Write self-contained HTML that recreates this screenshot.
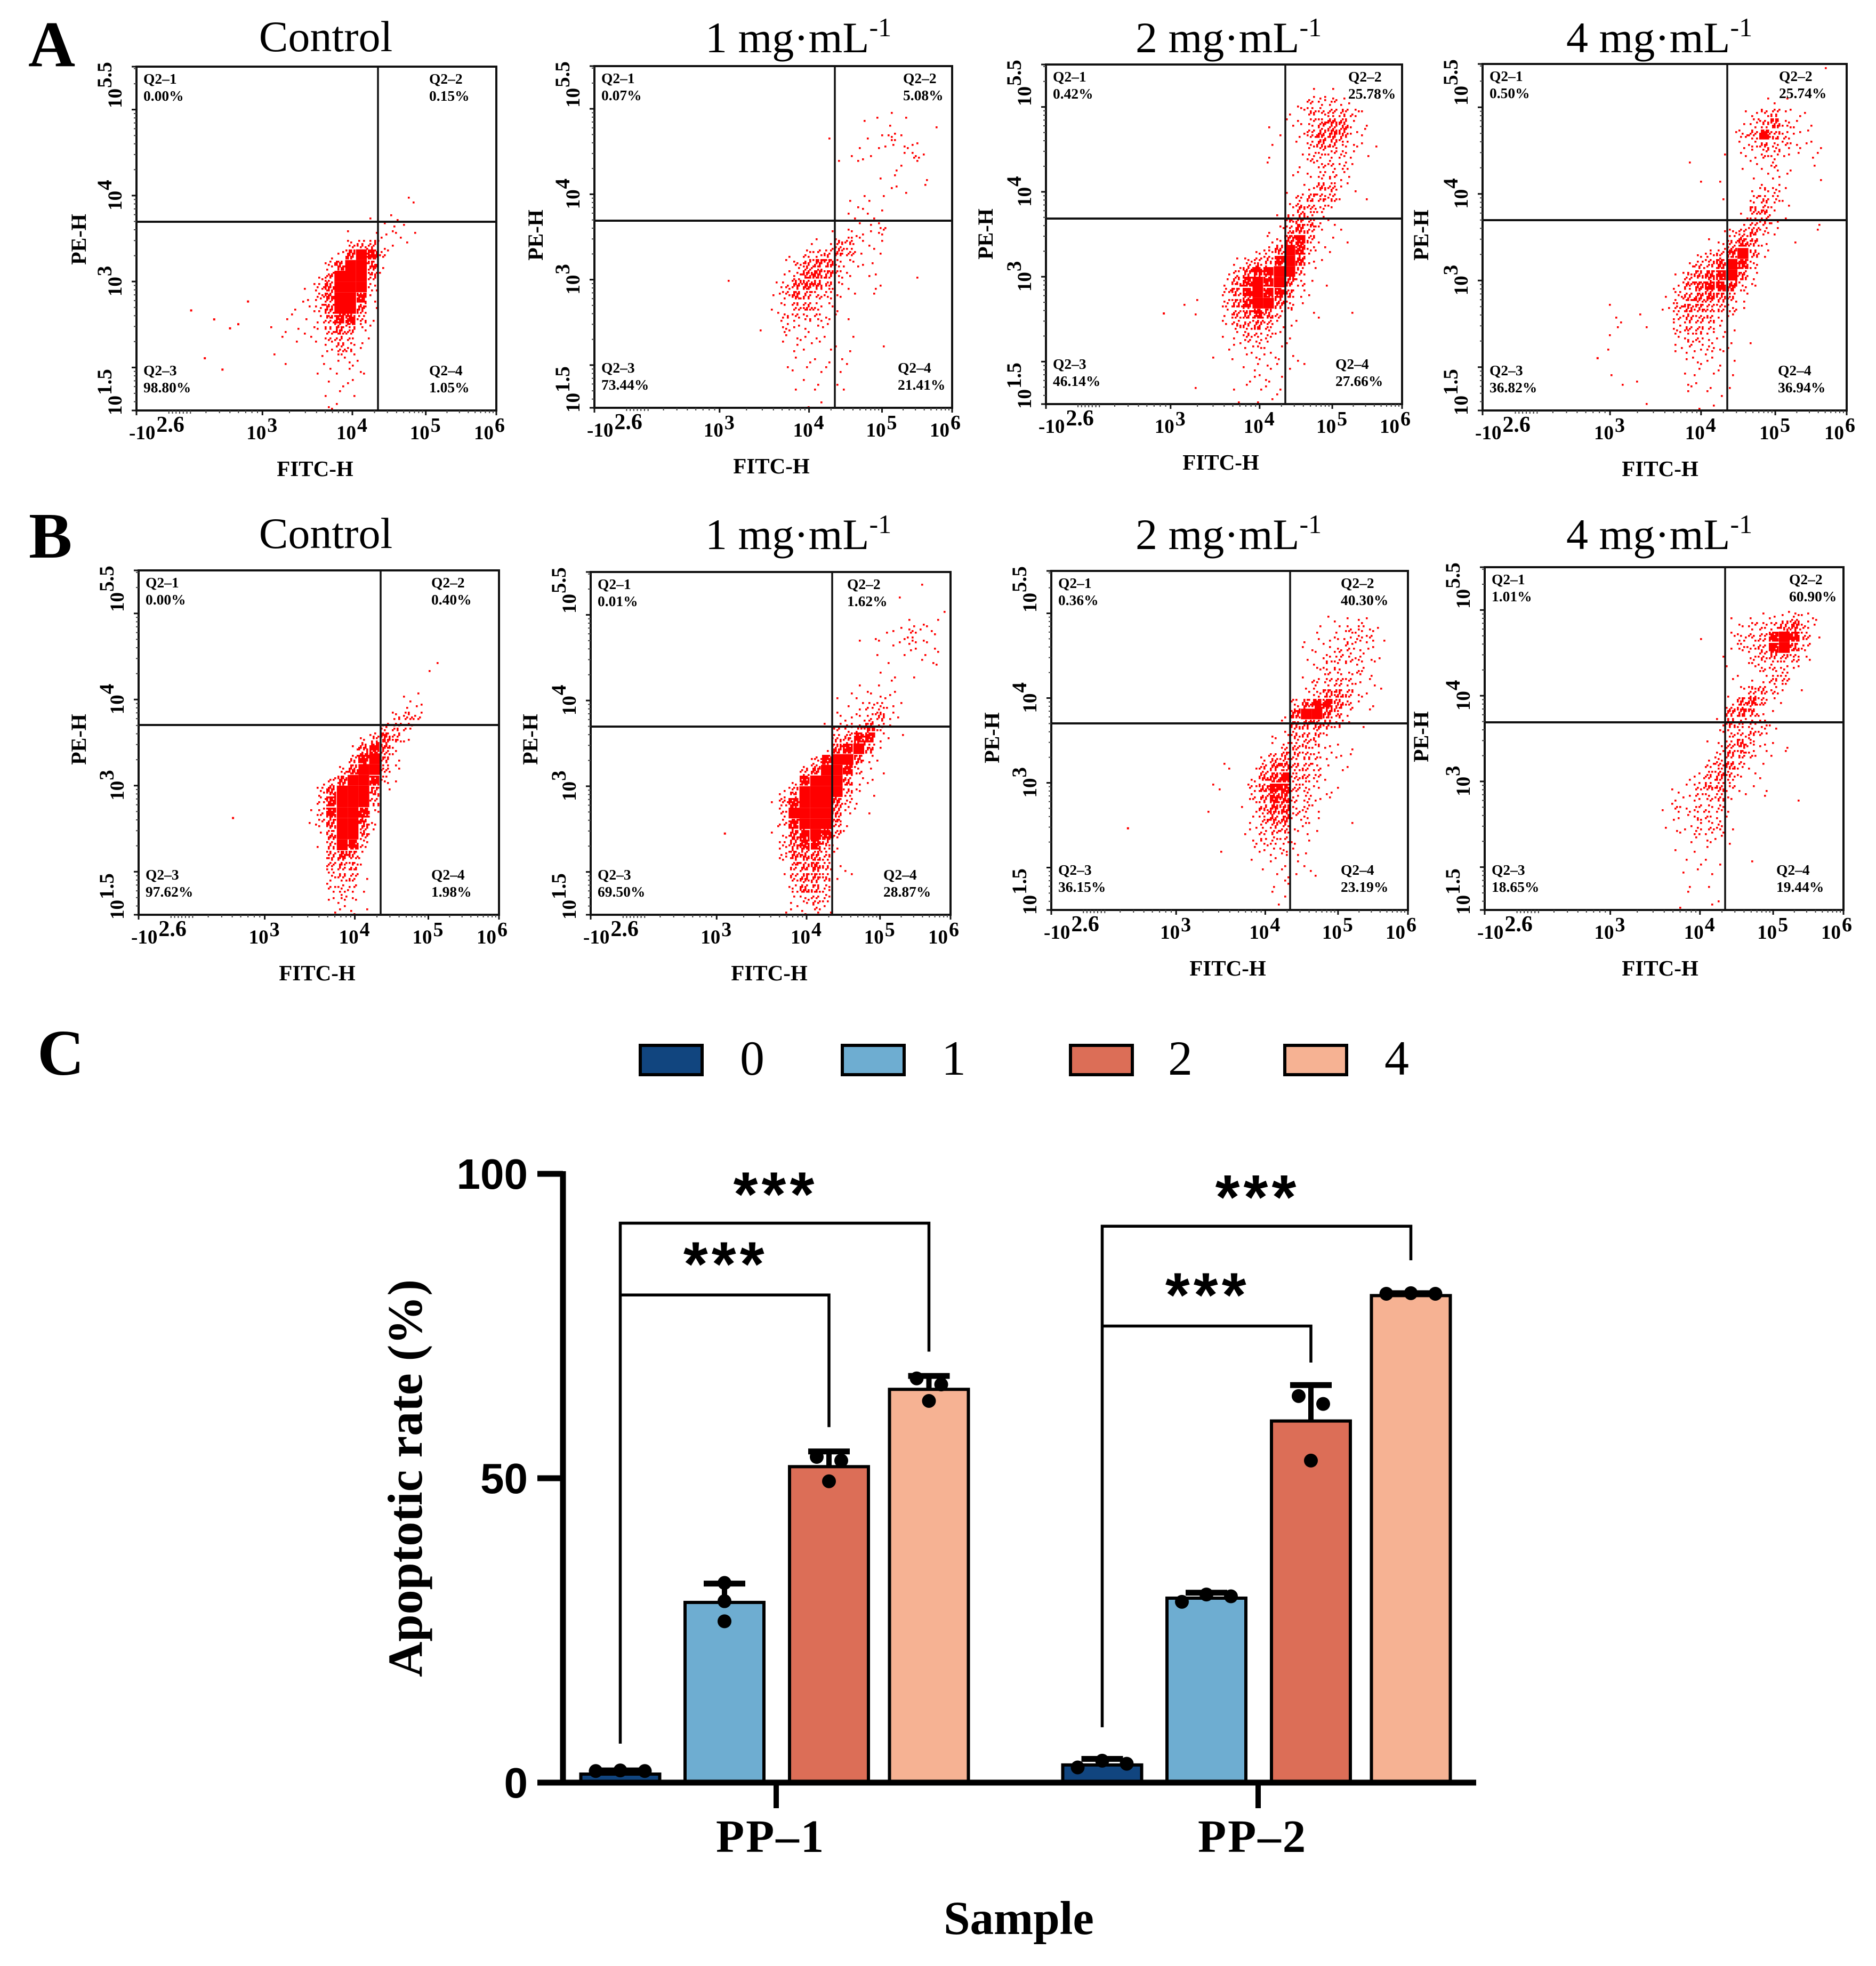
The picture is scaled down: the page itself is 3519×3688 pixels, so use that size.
<!DOCTYPE html>
<html lang="en">
<head>
<meta charset="utf-8">
<title>Apoptosis flow cytometry and apoptotic rate</title>
<style>
html,body{margin:0;padding:0;background:#fff;}
svg{display:block;}
text{font-family:"Liberation Serif","Times New Roman",serif;fill:#000;}
</style>
</head>
<body>
<svg id="figure" xmlns="http://www.w3.org/2000/svg" width="3519" height="3688" viewBox="0 0 3519 3688">
<rect x="0" y="0" width="3519" height="3688" fill="#fff"/>
<text x="53" y="124" font-size="122" font-weight="bold">A</text>
<text x="54" y="1046" font-size="122" font-weight="bold">B</text>
<text x="70" y="2016" font-size="122" font-weight="bold">C</text>
</svg>
<script>
/* ---------- flow cytometry data: event density read per grid cell ("column:density") ---------- */
const xMajorTicks = [3, 4, 5, 6];
const yMajorTicks = [1.5, 2, 3, 4, 5, 5.5];
const panelTitles = ['Control', '1 mg·mL', '2 mg·mL', '4 mg·mL'];

const quadA1 = ['0.00%', '0.15%', '98.80%', '1.05%'];
const quadA2 = ['0.07%', '5.08%', '73.44%', '21.41%'];
const quadA3 = ['0.42%', '25.78%', '46.14%', '27.66%'];
const quadA4 = ['0.50%', '25.74%', '36.82%', '36.94%'];
const quadB1 = ['0.00%', '0.40%', '97.62%', '1.98%'];
const quadB2 = ['0.01%', '1.62%', '69.50%', '28.87%'];
const quadB3 = ['0.36%', '40.30%', '36.15%', '23.19%'];
const quadB4 = ['1.01%', '60.90%', '18.65%', '19.44%'];

const densityA1 = ['','','','','','','','','','','','','13:1 14:1','12:1','10:1 11:1 12:2 13:1','8:1 10:1 11:2 12:2 13:1 14:1',
'8:3 9:4 10:5 11:2 12:1 13:1','6:1 7:2 8:7 9:9 10:8 11:3','6:3 7:7 8:9 9:9 10:7 11:1','5:2 6:5 7:9 8:9 9:9 10:5 11:1',
'4:1 5:3 6:7 7:9 8:9 9:9 10:3','4:2 5:3 6:7 7:9 8:9 9:8 10:2','3:1 4:1 5:3 6:7 7:9 8:9 9:6 10:1','2:1 3:1 4:1 5:2 6:5 7:8 8:8 9:4 10:1',
'1:1 2:1 3:1 4:1 5:2 6:4 7:6 8:5 9:2 10:1','2:1 3:1 4:1 5:1 6:3 7:5 8:3 9:1 10:1','1:1 5:1 6:2 7:4 8:3 9:1','2:1 6:1 7:2 8:2 9:1',
'5:1 6:1 7:1 8:1 9:2','6:1 7:1 8:2','6:1 7:1 8:1','6:2 7:1'];
const densityA2 = ['','','','','15:1 16:1 17:1','13:1 16:1 20:1','10:1 14:1 15:1 16:3 17:1','13:1 15:2 16:1 17:2 18:2','11:1 12:1 13:2 14:1 17:1 18:3 19:1',
'16:1 17:1','15:1 16:1 19:1','16:2 17:1 19:1','12:1 13:1 14:1 15:1','12:1 13:2 14:1 15:1','12:1 13:1 14:2 15:1','10:1 12:2 13:2 14:1 15:3',
'8:1 9:1 10:1 11:4 12:4 13:2 14:1 15:1','6:1 8:3 9:3 10:4 11:5 12:4 13:1 14:1 15:1','6:1 7:3 8:5 9:7 10:6 11:3 12:2 13:2 14:1','6:2 7:3 8:7 9:7 10:6 11:3 12:2 14:2 18:1',
'1:1 5:1 6:3 7:6 8:7 9:6 10:4 11:2 12:1 14:1 15:1','5:2 6:3 7:6 8:5 9:3 10:3 11:2 12:1 14:1','5:1 6:2 7:4 8:5 9:3 10:2 11:1','5:1 6:3 7:3 8:3 9:3 10:2 11:1 12:1',
'4:1 6:3 7:2 8:2 9:2 10:1','6:2 7:2 8:2 9:2 10:1 12:1','7:2 8:1 10:1 11:1 12:1 15:1','7:1 8:1 9:1 10:1 11:1 12:1','6:1 7:1 8:1 9:1 10:1 11:1','8:1 9:1 11:1','7:1 9:1 11:1','8:1 9:1'];
const densityA3 = ['','','13:1 15:1','12:1 13:3 14:3 15:3 16:2 17:1','11:1 12:2 13:4 14:3 15:4 16:4 17:3 18:1','9:1 11:2 12:2 13:3 14:5 15:6 16:6 17:2 18:1','10:1 12:2 13:4 14:6 15:7 16:6 17:2 18:2',
'9:1 12:1 13:3 14:6 15:5 16:3 17:2 18:1 19:1','9:1 12:1 13:3 14:3 15:3 16:3 17:2 18:1','9:1 12:1 13:2 14:3 15:3 16:3 17:1','11:1 12:1 13:2 14:3 15:3 16:2 17:1','12:1 13:2 14:5 15:5 16:2 17:1',
'11:1 12:3 13:5 14:5 15:4 16:1 18:1','11:2 12:5 13:5 14:3 15:2','10:1 11:5 12:6 13:4 14:2 15:1','9:1 10:2 11:5 12:7 13:5 14:2 15:1 16:1','9:2 10:2 11:7 12:8 13:4 14:1 15:1 16:1',
'8:2 9:3 10:6 11:9 12:8 13:3 14:1 15:1','6:2 7:3 8:4 9:5 10:8 11:9 12:7 13:2 14:1','5:1 6:3 7:6 8:8 9:8 10:9 11:9 12:4 13:1','5:2 6:5 7:8 8:9 9:8 10:9 11:7 12:3 13:1 14:1','5:3 6:6 7:8 8:9 9:8 10:8 11:5 12:2 13:1',
'1:1 2:1 5:3 6:6 7:8 8:9 9:9 10:6 11:3 12:1','2:1 5:2 6:5 7:6 8:8 9:6 10:3 11:2 13:1 14:1 17:1','5:2 6:4 7:5 8:6 9:4 10:2 11:1 12:1','5:1 6:2 7:4 8:3 9:3 10:2 11:1','5:1 6:2 7:2 8:3 9:2 10:1 11:1',
'4:1 6:1 7:2 8:2 9:2 10:2 11:1 12:1','7:1 8:2 9:2 10:1 11:1 12:1','7:1 8:2 9:2 10:1','2:1 6:1 7:1 8:1 9:1 10:1','6:1 8:1 9:1 10:1'];
const densityA4 = ['20:1','','','14:1 15:1 16:1','12:1 13:2 14:3 15:4 16:2 17:1 18:1','12:1 13:3 14:4 15:7 16:3 17:2 18:1','11:1 12:3 13:5 14:8 15:5 16:3 17:2 18:1','12:2 13:3 14:5 15:3 16:3 17:2 18:2 19:1',
'10:1 12:2 13:2 14:3 15:3 16:2 17:1 18:1 19:1','7:1 12:1 13:1 14:1 15:3 16:1 19:1','8:1 10:1 13:1 14:1 15:2 16:1 19:1','13:1 14:3 15:3 16:1','10:1 13:3 14:4 15:3 16:1','12:1 13:5 14:5 15:2 16:1','12:2 13:4 14:4 15:2 16:1 19:1',
'10:1 11:3 12:4 13:6 14:3 15:2 19:1','9:1 10:2 11:4 12:7 13:5 14:2 17:1','8:2 9:3 10:4 11:7 12:9 13:5 14:2','7:2 8:4 9:5 10:7 11:9 12:8 13:3','6:1 7:4 8:6 9:7 10:8 11:9 12:6 13:2','6:2 7:5 8:7 9:8 10:8 11:7 12:3 13:2','5:1 6:3 7:6 8:7 9:7 10:6 11:4 12:2',
'0:1 5:2 6:4 7:6 8:6 9:5 10:4 11:3 12:1','0:1 1:1 3:1 6:3 7:5 8:5 9:4 10:2 11:2','1:1 3:1 6:3 7:4 8:4 9:3 10:2 11:1','0:1 6:2 7:3 8:3 9:2 10:2 11:1 13:1','0:1 6:2 7:2 8:2 9:3 10:2 11:1','7:2 8:2 9:2 10:1 11:1','0:1 7:1 8:2 9:1 10:1 11:1','1:1 2:1 7:2 8:1 9:1 11:1','7:1 9:1 10:1','3:1 8:1 9:1'];
const densityB1 = ['','','','','','','','','16:1','15:1','','13:1 14:1','13:2 14:2','12:3 13:4 14:3','11:3 12:4 13:3','9:2 10:4 11:7 12:5 13:2',
'8:2 9:6 10:8 11:6 12:2','8:4 9:8 10:9 11:5 12:2','7:3 8:7 9:9 10:9 11:4 12:2','5:1 6:3 7:7 8:9 9:9 10:8 11:3 12:1','5:3 6:7 7:9 8:9 9:9 10:6 11:1','5:3 6:8 7:9 8:9 9:9 10:4','4:1 5:3 6:8 7:9 8:9 9:8 10:2','4:1 5:3 6:7 7:9 8:9 9:7 10:2',
'5:1 6:6 7:9 8:9 9:5 10:1','5:1 6:5 7:9 8:8 9:3','6:5 7:7 8:6 9:2','6:4 7:5 8:5 9:1','6:3 7:4 8:4 9:1','6:3 7:3 8:3 9:1','6:2 7:3 8:2','6:1 7:2 8:2 9:1'];
const densityB2 = ['','19:1','17:1','21:1','18:1 19:1 20:1','16:2 17:1 18:3 19:2 20:2','13:1 15:2 16:1 17:2 18:3 19:2','15:1 17:1 18:2 19:1 20:2','16:1 19:1 20:2','15:1 16:1 18:1','13:1 15:1 16:1','11:1 12:1 13:1 14:2 15:2 16:2',
'12:1 13:2 14:3 15:3 16:2 17:1','11:2 12:2 13:2 14:3 15:5 16:2 17:1','10:1 11:3 12:3 13:3 14:7 15:3 16:1','11:4 12:5 13:8 14:8 15:2 16:1 17:1','10:1 11:7 12:8 13:9 14:5 15:1','9:3 10:8 11:9 12:9 13:6 14:2 15:1','8:4 9:7 10:9 11:9 12:8 13:3 14:1 15:1',
'7:2 8:8 9:9 10:9 11:9 12:6 13:2 14:2','6:2 7:5 8:9 9:9 10:9 11:9 12:4 13:2 14:1','5:1 6:4 7:8 8:9 9:9 10:9 11:7 12:3 13:1','6:3 7:9 8:9 9:9 10:9 11:6 12:2 13:1 14:1','6:3 7:8 8:9 9:9 10:9 11:5 12:1','5:1 6:2 7:7 8:8 9:9 10:8 11:4 12:1','6:3 7:6 8:8 9:8 10:5 11:2',
'6:3 7:6 8:6 9:7 10:4 11:1','7:5 8:6 9:7 10:4 11:1 12:1','6:1 7:4 8:6 9:6 10:4 11:1 12:1','7:3 8:6 9:5 10:3','7:2 8:3 9:4 10:3','6:1 7:2 8:2 9:3 10:2'];
const densityB3 = ['','','','','14:1 15:1 16:1 17:2 18:1','13:2 15:2 16:3 17:3 18:2 19:1','12:1 13:1 14:2 15:2 16:3 17:3 18:3 19:1','12:1 13:2 14:2 15:3 16:3 17:2 18:2','12:1 13:1 14:3 15:3 16:3 17:3 18:2 19:1','13:2 14:3 15:3 16:2 17:3 18:1',
'12:1 13:3 14:3 15:4 16:3 17:2 18:2','12:2 13:3 14:6 15:6 16:4 17:2 18:1 19:1','11:3 12:6 13:8 14:8 15:6 16:3 17:1 18:1','10:1 11:7 12:9 13:9 14:7 15:4 16:2 18:1','10:1 11:6 12:6 13:6 14:5 15:3 16:1 17:1','9:2 10:2 11:4 12:4 13:4 14:2',
'9:1 10:3 11:4 12:4 13:3 14:2 15:1 16:1','8:2 9:4 10:5 11:4 12:4 13:3 14:2 15:2 16:1','4:1 5:1 7:1 8:4 9:6 10:6 11:4 12:4 13:3 14:1 15:1 16:1','7:2 8:6 9:7 10:8 11:4 12:4 13:3 14:1','3:1 4:1 7:3 8:6 9:8 10:8 11:4 12:3 13:2 14:1 15:1','7:3 8:5 9:8 10:7 11:3 12:3 13:2 14:2',
'3:1 6:1 7:1 8:5 9:7 10:7 11:3 12:3 13:2','7:2 8:4 9:6 10:6 11:2 12:3 13:1 16:1','6:1 7:2 8:3 9:4 10:4 11:2 12:2 13:1','7:2 8:3 9:3 10:3 11:2 12:1','4:1 7:1 8:2 9:2 10:3 11:2 12:1','7:1 9:2 10:1 11:1 12:1','8:1 9:1 10:2 11:1 12:1 13:1','9:1 10:2','9:1 10:1','9:1'];
const densityB4 = ['','','','','11:1 13:1 14:1 15:2 16:2 17:3 18:2 19:2','12:2 13:3 14:3 15:3 16:6 17:7 18:3 19:1','8:1 11:2 12:3 13:3 14:4 15:8 16:9 17:8 18:4 19:1','11:1 12:3 13:3 14:4 15:8 16:9 17:6 18:3','10:1 13:3 14:4 15:5 16:4 17:4 18:2','11:1 13:1 14:3 15:3 16:3 17:2','11:1 12:1 13:1 14:2 15:4 16:4',
'12:2 13:4 14:5 15:3 16:1 18:1','11:2 12:6 13:7 14:4 15:1 16:1','11:6 12:7 13:5 14:2 15:1','10:2 11:6 12:4 13:3 14:3 15:2','10:2 11:3 12:3 13:4 14:3 15:1','9:1 10:2 11:4 12:6 13:3 14:2 15:1 16:1','10:3 11:5 12:5 13:3 14:1 15:1 16:1','9:3 10:4 11:6 12:3 13:1 14:1',
'7:1 8:2 9:4 10:6 11:4 12:2 13:1 14:1','6:1 7:1 8:3 9:5 10:5 11:3 12:1 13:1 14:1','6:2 7:2 8:3 9:3 10:4 11:2 12:1 14:1 17:1','5:1 6:3 7:2 8:3 9:3 10:3 11:1','6:2 7:1 8:3 9:3 10:2 11:1','5:1 6:2 7:2 8:3 9:3 10:3 11:1','7:1 8:1 9:2 10:2 11:1','6:1 8:1 9:1','7:1 8:1 9:1 10:1 13:1','7:1 8:1 9:1','7:1 9:1','7:1','6:1 9:1 10:1'];

const outliersA1 = [[0.149,0.706],[0.307,0.68],[0.257,0.758],[0.28,0.746],[0.213,0.732],[0.187,0.845],[0.236,0.878]];
const outliersA2 = [];
const outliersA3 = [[0.328,0.73]];
const outliersA4 = [[0.313,0.846]];
const outliersB1 = [[0.259,0.716]];
const outliersB2 = [[0.37,0.76]];
const outliersB3 = [[0.212,0.756]];
const outliersB4 = [];

/* ---------- bar chart data ---------- */
const groupLabels = ['PP–1', 'PP–2'];
const doseLabels = ['0', '1', '2', '4'];
const yAxisTicks = [0, 50, 100];
const ratePP1 = [1.4, 29.6, 51.9, 64.6];
const ratePP2 = [2.9, 30.3, 59.4, 80.0];
const errTopPP1 = [2.0, 32.7, 54.4, 66.8];
const errTopPP2 = [3.9, 31.2, 65.3, 80.4];
const repsPP1 = [[1.9, 2.0, 1.9], [32.8, 29.8, 26.5], [53.5, 52.9, 49.5], [66.4, 65.4, 62.7]];
const repsPP2 = [[2.5, 3.6, 3.1], [29.7, 30.9, 30.6], [63.5, 62.2, 52.9], [80.3, 80.4, 80.3]];
const bracketOuterLevel = [91.9, 91.4];
const bracketOuterEnd = [70.8, 85.8];
const bracketInnerLevel = [80.1, 75.0];
const bracketInnerEnd = [58.4, 69.0];
const bracketStart = [6.4, 9.1];
const doseColors = ['#11457f', '#6eadd1', '#dc6e57', '#f6b293'];

/* ---------- layout (pixels), separate from data ---------- */
const rowA = [
 {id:'a1',l:256,r:931,t:125,b:770,v:709,h:416,title:0,tx:611,fx:591,px:161,py:449,q2:805,q4:805,quad:quadA1,dens:densityA1,out:outliersA1},
 {id:'a2',l:1115,r:1786,t:124,b:765,v:1566,h:414,title:1,tx:1323,fx:1447,px:1018,py:441,q2:1694,q4:1684,quad:quadA2,dens:densityA2,out:outliersA2},
 {id:'a3',l:1962,r:2630,t:121,b:758,v:2411,h:410,title:2,tx:2130,fx:2290,px:1862,py:439,q2:2529,q4:2505,quad:quadA3,dens:densityA3,out:outliersA3},
 {id:'a4',l:2781,r:3464,t:120,b:770,v:3240,h:413,title:3,tx:2938,fx:3114,px:2679,py:441,q2:3337,q4:3335,quad:quadA4,dens:densityA4,out:outliersA4}
];
const rowB = [
 {id:'b1',l:260,r:936,t:1070,b:1716,v:714,h:1360,title:0,tx:611,fx:595,px:161,py:1387,q2:809,q4:809,quad:quadB1,dens:densityB1,out:outliersB1},
 {id:'b2',l:1108,r:1783,t:1073,b:1716,v:1561,h:1363,title:1,tx:1323,fx:1443,px:1008,py:1387,q2:1589,q4:1657,quad:quadB2,dens:densityB2,out:outliersB2},
 {id:'b3',l:1972,r:2641,t:1071,b:1707,v:2420,h:1357,title:2,tx:2130,fx:2303,px:1874,py:1384,q2:2515,q4:2515,quad:quadB3,dens:densityB3,out:outliersB3},
 {id:'b4',l:2785,r:3458,t:1064,b:1707,v:3236,h:1355,title:3,tx:2938,fx:3114,px:2679,py:1382,q2:3356,q4:3332,quad:quadB4,dens:densityB4,out:outliersB4}
];
const SVGNS = 'http://www.w3.org/2000/svg';
const root = document.getElementById('figure');
function mk(tag, attrs, parent, txt) {
  const el = document.createElementNS(SVGNS, tag);
  for (const k in attrs) el.setAttribute(k, attrs[k]);
  if (txt !== undefined) el.textContent = txt;
  (parent || root).appendChild(el);
  return el;
}
function xFrac(e) { /* biexponential FITC axis */
  const knots = [[2.3,0.14],[3,0.35],[4,0.6],[5,0.804],[6,1]];
  for (let i = 0; i < knots.length - 1; i++) {
    if (e <= knots[i+1][0]) {
      return knots[i][1] + (e - knots[i][0]) / (knots[i+1][0] - knots[i][0]) * (knots[i+1][1] - knots[i][1]);
    }
  }
  return 1;
}
function yFrac(e) { return (e - 1.5) / 4; }
const dotCounts = [0, 1, 2, 5, 8, 13, 22, 36, 70];
function fr(v) { return v - Math.floor(v); }

function drawPanel(p) {
  const g = mk('g', {});
  
  
  const W = p.r - p.l, H = p.b - p.t;
  const X = f => p.l + f * W;
  const Y = f => p.b - f * H;

  /* scatter from density grid */
  const cw = 0.03 * W, ch = H / 32, dot = 3.6;
  const sg = mk('g', {fill: '#ff0000'}, g);
  
  
  p.dens.forEach((row, r) => {
    if (!row) return;
    row.split(' ').forEach(tok => {
      const c = +tok.split(':')[0], d = +tok.split(':')[1];
      const cx = X(0.34 + 0.03 * c), cy = p.t + r * ch;
      let path = '';
      if (d >= 9) {
        path = 'M' + cx.toFixed(1) + ' ' + cy.toFixed(1) + 'h' + cw.toFixed(1) + 'v' + ch.toFixed(1) + 'h' + (-cw).toFixed(1) + 'z';
      } else {
        const n = dotCounts[d];
        for (let i = 0; i < n; i++) {
          const px = cx + fr((i + 1) * 0.618034 + c * 0.37 + r * 0.71) * (cw - dot);
          const py = cy + fr((i + 1) * 0.754878 + c * 0.53 + r * 0.29) * (ch - dot);
          path += 'M' + Math.round(px / 3) * 3 + ' ' + Math.round(py / 3) * 3 + 'h' + dot + 'v' + dot + 'h-' + dot + 'z';
        }
      }
      const cell = mk('path', {d: path}, sg);
      
      
    });
  });
  p.out.forEach(o => {
    const pt = mk('rect', {x: X(o[0]), y: p.t + o[1] * H, width: 4, height: 4}, sg);
    
    
  });

  /* frame and gates */
  const frame = mk('rect', {x: p.l, y: p.t, width: W, height: H, fill: 'none', stroke: '#111', 'stroke-width': 4}, g);
  
  
  const vg = mk('line', {x1: p.v, x2: p.v, y1: p.t, y2: p.b, stroke: '#111', 'stroke-width': 3.5}, g);
  
  
  const hg = mk('line', {x1: p.l, x2: p.r, y1: p.h, y2: p.h, stroke: '#111', 'stroke-width': 4}, g);
  
  

  /* ticks */
  let tp = '';
  xMajorTicks.forEach(e => { tp += 'M' + X(xFrac(e)).toFixed(1) + ' ' + p.b + 'v9'; });
  tp += 'M' + p.l + ' ' + p.b + 'v9';
  yMajorTicks.forEach(e => { tp += 'M' + p.l + ' ' + Y(yFrac(e)).toFixed(1) + 'h-9'; });
  const major = mk('path', {d: tp, stroke: '#111', 'stroke-width': 3, fill: 'none'}, g);
  
  
  let mp = '';
  for (let d = 2.3; d < 6; d += 1) {
    for (let m = 2; m <= 9; m++) {
      const e = Math.floor(d) + Math.log10(m);
      if (e > 2.3) mp += 'M' + X(xFrac(e)).toFixed(1) + ' ' + p.b + 'v5';
    }
  }
  [0.09, 0.1, 0.11, 0.12, 0.13, 0.14, 0.15].forEach(f => { mp += 'M' + X(f).toFixed(1) + ' ' + p.b + 'v6'; });
  for (let d = 1; d < 6; d++) {
    for (let m = 2; m <= 9; m++) {
      const e = d + Math.log10(m);
      if (e > 1.5 && e < 5.5) mp += 'M' + p.l + ' ' + Y(yFrac(e)).toFixed(1) + 'h-5';
    }
  }
  const minor = mk('path', {d: mp, stroke: '#444', 'stroke-width': 2, fill: 'none'}, g);
  
  

  /* x tick labels */
  const base = p.b + 54;
  function xl(x, exp, pre, expSize) {
    const t = mk('text', {x: x, y: base, 'font-size': 37, 'font-weight': 'bold'}, g, (pre || '') + '10');
    
    
    const s = mk('tspan', {dy: -14, dx: 2, 'font-size': expSize}, t, exp);
    
    
  }
  xl(p.l - 14, '2.6', '-', 42);
  xl(X(xFrac(3)) - 30, '3', '', 38);
  xl(X(xFrac(4)) - 30, '4', '', 38);
  xl(X(xFrac(5)) - 30, '5', '', 38);
  xl(p.r - 42, '6', '', 38);

  /* y tick labels */
  function yl(yy, exp) {
    const t = mk('text', {transform: 'translate(' + (p.l - 28) + ' ' + yy + ') rotate(-90)', 'font-size': 37, 'font-weight': 'bold'}, g, '10');
    
    
    const s = mk('tspan', {dy: -19, dx: 1, 'font-size': 39}, t, exp);
    
    
  }
  yl(p.b + 9, '1.5');
  yl(Y(yFrac(3)) + 28, '3');
  yl(Y(yFrac(4)) + 28, '4');
  yl(p.t + 78, '5.5');

  /* axis titles */
  const ft = mk('text', {x: p.fx, y: p.b + 123, 'text-anchor': 'middle', 'font-size': 41, 'font-weight': 'bold'}, g, 'FITC-H');
  
  
  const pt = mk('text', {transform: 'translate(' + p.px + ' ' + p.py + ') rotate(-90)', 'text-anchor': 'middle', 'font-size': 40, 'font-weight': 'bold'}, g, 'PE-H');
  
  

  /* panel title */
  if (p.title === 0) {
    const tt = mk('text', {x: p.tx, y: (p.id[0] === 'a' ? 96 : 1028), 'text-anchor': 'middle', 'font-size': 82}, g, panelTitles[0]);
    
    
  } else {
    const tt = mk('text', {x: p.tx, y: (p.id[0] === 'a' ? 98 : 1030), 'font-size': 82}, g, panelTitles[p.title]);
    
    
    const sp = mk('tspan', {dy: -30, 'font-size': 50}, tt, '-1');
    
    
  }

  /* quadrant labels */
  const qNames = ['Q2–1', 'Q2–2', 'Q2–3', 'Q2–4'];
  const qX = [p.l + 13, p.q2, p.l + 13, p.q4];
  const qY = [p.t + 32, p.t + 32, p.b - 66, p.b - 66];
  qNames.forEach((n, i) => {
    const a = mk('text', {x: qX[i], y: qY[i], 'font-size': 27.5, 'font-weight': 'bold'}, g, n);
    
    
    const b = mk('text', {x: qX[i], y: qY[i] + 32, 'font-size': 27.5, 'font-weight': 'bold'}, g, p.quad[i]);
    
    
  });
}
rowA.forEach(drawPanel);
rowB.forEach(drawPanel);

/* ---------- bar chart ---------- */
const chart = mk('g', {});


const yZero = 3344, yUnit = 11.42;
const yScale = v => yZero - v * yUnit;
const xBar = (g, i) => 1163.5 + g * 904 + [0, 195.5, 391.5, 579][i];
const barW = 154;

[ratePP1, ratePP2].forEach((rates, g) => {
  const errs = g === 0 ? errTopPP1 : errTopPP2;
  const reps = g === 0 ? repsPP1 : repsPP2;
  rates.forEach((v, i) => {
    const cx = xBar(g, i);
    const bar = mk('rect', {x: cx - barW / 2 + 3, y: yScale(v), width: barW - 6, height: yZero - yScale(v), fill: doseColors[i], stroke: '#000', 'stroke-width': 6}, chart);
    
    
    const stem = mk('line', {x1: cx, x2: cx, y1: yScale(v), y2: yScale(errs[i]), stroke: '#000', 'stroke-width': 10}, chart);
    
    
    const cap = mk('line', {x1: cx - 39, x2: cx + 39, y1: yScale(errs[i]), y2: yScale(errs[i]), stroke: '#000', 'stroke-width': 11}, chart);
    
    
    /* swarm replicate dots: dots closer than a dot diameter spread sideways, keeping array order */
    const r = 13;
    const idx = reps[i].map((_, n) => n).sort((a, b) => reps[i][b] - reps[i][a]);
    let k = 0;
    while (k < idx.length) {
      let e = k;
      while (e + 1 < idx.length && (reps[i][idx[e]] - reps[i][idx[e + 1]]) * yUnit < 2 * r) e++;
      const members = idx.slice(k, e + 1).sort((a, b) => a - b);
      members.forEach((m, j) => {
        const dx = (j - (members.length - 1) / 2) * 46;
        const c = mk('circle', {cx: cx + dx, cy: yScale(reps[i][m]), r: r, fill: '#000'}, chart);
        
        
      });
      k = e + 1;
    }
  });
  /* significance brackets */
  const x0 = xBar(g, 0), x2 = xBar(g, 2), x3 = xBar(g, 3);
  const outer = mk('path', {d: 'M' + x0 + ' ' + yScale(bracketStart[g]) + 'V' + yScale(bracketOuterLevel[g]) + 'H' + x3 + 'V' + yScale(bracketOuterEnd[g]), fill: 'none', stroke: '#000', 'stroke-width': 5.5}, chart);
  
  
  const inner = mk('path', {d: 'M' + x0 + ' ' + yScale(bracketInnerLevel[g]) + 'H' + x2 + 'V' + yScale(bracketInnerEnd[g]), fill: 'none', stroke: '#000', 'stroke-width': 5.5}, chart);
  
  
  const s1 = mk('text', {x: (x0 + x3) / 2 + 2, y: yScale(bracketOuterLevel[g]) - 14, 'text-anchor': 'middle', 'font-size': 118, 'font-weight': 'bold', 'letter-spacing': 7, style: 'font-family:"Liberation Sans",sans-serif'}, chart, '***');
  
  
  const s2 = mk('text', {x: (x0 + x2) / 2 + 2, y: yScale(bracketInnerLevel[g]) - 18, 'text-anchor': 'middle', 'font-size': 118, 'font-weight': 'bold', 'letter-spacing': 7, style: 'font-family:"Liberation Sans",sans-serif'}, chart, '***');
  
  
  /* group tick and label */
  const gx = 1456 + g * 904;
  const tick = mk('line', {x1: gx, x2: gx, y1: yZero, y2: 3392, stroke: '#000', 'stroke-width': 10}, chart);
  
  
  const lab = mk('text', {x: 1343 + g * 904, y: 3474, 'font-size': 87, 'font-weight': 'bold', 'letter-spacing': 3}, chart, groupLabels[g]);
  
  
});

/* axes */
const yAxis = mk('line', {x1: 1056, x2: 1056, y1: yScale(100) - 5, y2: yZero + 5, stroke: '#000', 'stroke-width': 11}, chart);


const xAxis = mk('line', {x1: 1008, x2: 2769, y1: yZero, y2: yZero, stroke: '#000', 'stroke-width': 11}, chart);


yAxisTicks.forEach(v => {
  const t = mk('line', {x1: 1008, x2: 1056, y1: yScale(v), y2: yScale(v), stroke: '#000', 'stroke-width': 11}, chart);
  
  
  const l = mk('text', {x: 990, y: yScale(v) + 28, 'text-anchor': 'end', 'font-size': 80, 'font-weight': 'bold', style: 'font-family:"Liberation Sans",sans-serif'}, chart, String(v));
  
  
});
const yTitle = mk('text', {transform: 'translate(791 2773) rotate(-90)', 'text-anchor': 'middle', 'font-size': 92, 'font-weight': 'bold'}, chart, 'Apoptotic rate (%)');


const xTitle = mk('text', {x: 1911, y: 3628, 'text-anchor': 'middle', 'font-size': 89, 'font-weight': 'bold'}, chart, 'Sample');



/* legend */
const legendBoxX = [1198, 1577, 2005, 2407];
const legendTextX = [1411, 1789, 2214, 2620];
doseLabels.forEach((d, i) => {
  const b = mk('rect', {x: legendBoxX[i] + 3, y: 1961, width: 116, height: 55, fill: doseColors[i], stroke: '#000', 'stroke-width': 6}, chart);
  
  
  const t = mk('text', {x: legendTextX[i], y: 2016, 'text-anchor': 'middle', 'font-size': 92}, chart, d);
  
  
});
</script>
</body>
</html>
